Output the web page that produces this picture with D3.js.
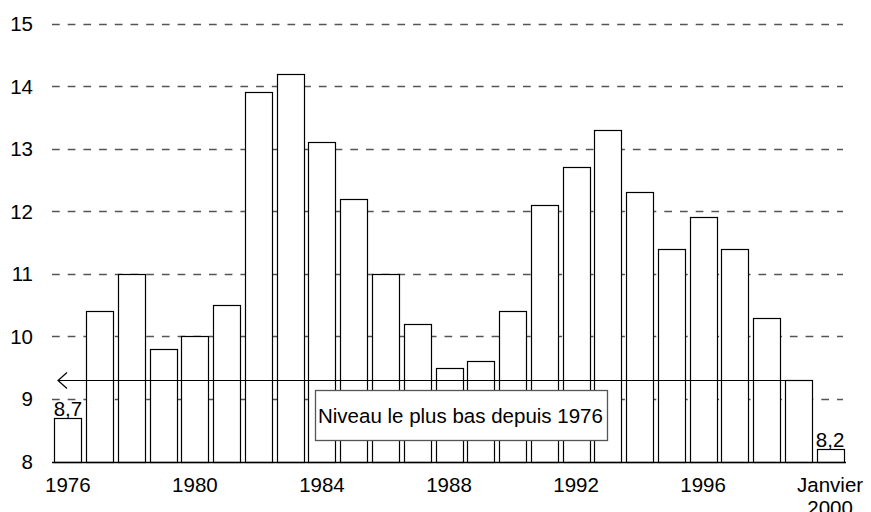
<!DOCTYPE html>
<html>
<head>
<meta charset="utf-8">
<script src="https://cdn.jsdelivr.net/npm/d3@7"></script>
<style>
  body { margin: 0; background: #fff; }
  svg { display: block; font-family: "Liberation Sans", Arial, sans-serif; }
</style>
</head>
<body>
<div id="chart"></div>
<script>
// data
var years = ["1976", "1977", "1978", "1979", "1980", "1981", "1982", "1983", "1984", "1985",
             "1986", "1987", "1988", "1989", "1990", "1991", "1992", "1993", "1994", "1995",
             "1996", "1997", "1998", "1999", "2000"];
var values = [8.7, 10.4, 11.0, 9.8, 10.0, 10.5, 13.9, 14.2, 13.1, 12.2,
              11.0, 10.2, 9.5, 9.6, 10.4, 12.1, 12.7, 13.3, 12.3, 11.4,
              11.9, 11.4, 10.3, 9.3, 8.2];
var yTicks = [8, 9, 10, 11, 12, 13, 14, 15];
var xLabels = ["1976", "1980", "1984", "1988", "1992", "1996"];
var lastLabel = ["Janvier", "2000"];
var valueLabels = [{ year: "1976", text: "8,7" }, { year: "2000", text: "8,2" }];
var lowLevel = 9.3;
var noteText = "Niveau le plus bas depuis 1976";

var width = 871, height = 512;
var fs = "20.5px";
var svg = d3.select("#chart").append("svg")
    .attr("width", width)
    .attr("height", height);

var x = d3.scaleBand()
    .domain(years)
    .range([52, 846])
    .paddingInner(0.15)
    .paddingOuter(0.075);

var y = d3.scaleLinear()
    .domain([8, 15])
    .range([461.5, 23.5]);

// dashed gridlines
svg.append("g")
    .selectAll("line")
    .data(yTicks.slice(1))
    .enter().append("line")
    .attr("x1", 52)
    .attr("x2", 843)
    .attr("y1", function(d) { return Math.round(y(d)) + 0.5; })
    .attr("y2", function(d) { return Math.round(y(d)) + 0.5; })
    .attr("stroke", "#555")
    .attr("stroke-width", 1.3)
    .attr("stroke-dasharray", "7.7,8");

// y tick labels
svg.append("g")
    .selectAll("text")
    .data(yTicks)
    .enter().append("text")
    .attr("x", 33)
    .attr("y", function(d) { return y(d) + 7.5; })
    .attr("text-anchor", "end")
    .attr("font-size", fs)
    .text(function(d) { return d; });

// bars
svg.append("g")
    .selectAll("rect")
    .data(values)
    .enter().append("rect")
    .attr("x", function(d, i) { return Math.round(x(years[i])) + 0.5; })
    .attr("y", function(d) { return Math.round(y(d)) + 0.5; })
    .attr("width", Math.round(x.bandwidth()))
    .attr("height", function(d) { return Math.round(y(8)) - Math.round(y(d)); })
    .attr("fill", "#fff")
    .attr("stroke", "#000")
    .attr("stroke-width", 1.2);

// baseline
svg.append("line")
    .attr("x1", 52)
    .attr("x2", 846)
    .attr("y1", Math.round(y(8)) + 0.5)
    .attr("y2", Math.round(y(8)) + 0.5)
    .attr("stroke", "#000")
    .attr("stroke-width", 1.5);

// low level line with arrow head
var ly = Math.round(y(lowLevel)) + 0.5;
var lx0 = 58, lx1 = x("1999") + x.bandwidth();
svg.append("line")
    .attr("x1", lx0).attr("x2", lx1)
    .attr("y1", ly).attr("y2", ly)
    .attr("stroke", "#000")
    .attr("stroke-width", 1.2);
svg.append("path")
    .attr("d", "M" + (lx0 + 9) + "," + (ly - 8) + "L" + lx0 + "," + ly + "L" + (lx0 + 9) + "," + (ly + 8))
    .attr("fill", "none")
    .attr("stroke", "#000")
    .attr("stroke-width", 1.2);

// value labels
svg.append("g")
    .selectAll("text")
    .data(valueLabels)
    .enter().append("text")
    .attr("x", function(d) { return x(d.year) + x.bandwidth() / 2; })
    .attr("y", function(d) { return y(values[years.indexOf(d.year)]) - 2; })
    .attr("text-anchor", "middle")
    .attr("font-size", fs)
    .text(function(d) { return d.text; });

// x labels
svg.append("g")
    .selectAll("text")
    .data(xLabels)
    .enter().append("text")
    .attr("x", function(d) { return x(d) + x.bandwidth() / 2; })
    .attr("y", 492)
    .attr("text-anchor", "middle")
    .attr("font-size", fs)
    .text(function(d) { return d; });

svg.append("g")
    .selectAll("text")
    .data(lastLabel)
    .enter().append("text")
    .attr("x", x("2000") + x.bandwidth() / 2)
    .attr("y", function(d, i) { return 492 + i * 23; })
    .attr("text-anchor", "middle")
    .attr("font-size", fs)
    .text(function(d) { return d; });

// note box
var note = svg.append("g");
note.append("rect")
    .attr("x", 315.5)
    .attr("y", 390.5)
    .attr("width", 292)
    .attr("height", 50)
    .attr("fill", "#fff")
    .attr("stroke", "#555")
    .attr("stroke-width", 1.3);
note.append("text")
    .attr("x", 318)
    .attr("y", 422.5)
    .attr("font-size", fs)
    .text(noteText);
</script>
</body>
</html>
